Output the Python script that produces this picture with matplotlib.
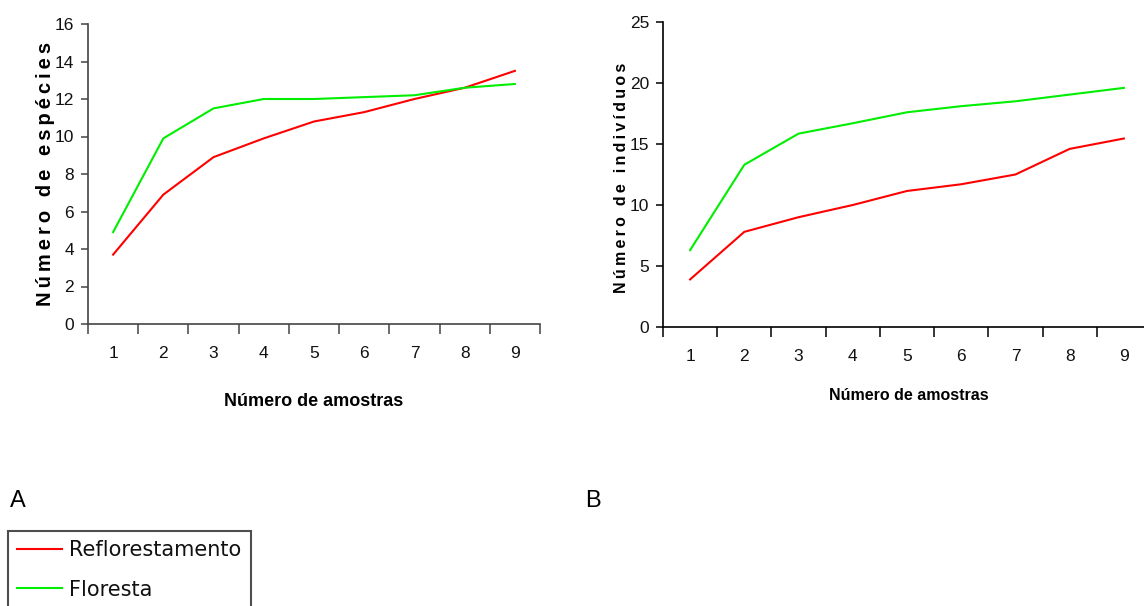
import matplotlib
matplotlib.use("Agg")
import matplotlib.pyplot as plt

# ── Data ──────────────────────────────────────────────────────────────────────

amostras = [1, 2, 3, 4, 5, 6, 7, 8, 9]

# Species accumulation (panel A)
especies_reflorestamento = [3.7, 6.9, 8.9, 9.9, 10.8, 11.3, 12.0, 12.6, 13.5]
especies_floresta = [4.9, 9.9, 11.5, 12.0, 12.0, 12.1, 12.2, 12.6, 12.8]

# Individual accumulation (panel B)
individuos_reflorestamento = [3.9, 7.8, 9.0, 10.0, 11.15, 11.7, 12.5, 14.6, 15.45]
individuos_floresta = [6.3, 13.3, 15.85, 16.7, 17.6, 18.1, 18.5, 19.05, 19.6]

yticks_a = [0, 2, 4, 6, 8, 10, 12, 14, 16]
yticks_b = [0, 5, 10, 15, 20, 25]

RED = "#ff0000"
GREEN = "#00ee00"
FONT = ["Liberation Sans", "DejaVu Sans"]


def spaced(text, gap="\u2009"):
    # letter-spaced label: thin gap between letters, a full space between words
    return (gap + " " + gap).join(gap.join(word) for word in text.split())


def style_axes(ax, yticks, ymax, spine_color):
    ax.set_xlim(0.5, 9.5)
    ax.set_ylim(0, ymax)
    for side in ("top", "right"):
        ax.spines[side].set_visible(False)
    for side in ("left", "bottom"):
        ax.spines[side].set_color(spine_color)
        ax.spines[side].set_linewidth(1.2)
    ax.set_xticks(amostras)
    ax.set_xticks([x + 0.5 for x in range(0, 10)], minor=True)
    ax.tick_params(axis="x", which="major", length=0, pad=16)
    ax.tick_params(axis="x", which="minor", length=7, width=1.1,
                   color=spine_color, direction="out")
    ax.set_yticks(yticks)
    ax.tick_params(axis="y", length=5, width=1.1, color=spine_color,
                   direction="out", pad=5)
    for lab in ax.get_xticklabels() + ax.get_yticklabels():
        lab.set_fontfamily(FONT)
        lab.set_fontsize(12.5)
        lab.set_color("#111111")


fig = plt.figure(figsize=(11.44, 6.06), dpi=100)

# ── Panel A ───────────────────────────────────────────────────────────────────

ax_a = fig.add_axes([88 / 1144, 1 - 324 / 606, 452 / 1144, 300 / 606])
ax_a.plot(amostras, especies_reflorestamento, color=RED, linewidth=1.5,
          label="Reflorestamento")
ax_a.plot(amostras, especies_floresta, color=GREEN, linewidth=1.5,
          label="Floresta")
style_axes(ax_a, yticks_a, 16, "#444444")
ax_a.set_xlabel("Número de amostras", fontsize=13, fontweight="bold",
                fontfamily=FONT, va="center")
ax_a.xaxis.set_label_coords(0.5, -(402 - 324) / 300)
ax_a.set_ylabel(spaced("Número de espécies"), fontsize=14.5,
                fontweight="bold", fontfamily=FONT, va="center")
ax_a.yaxis.set_label_coords(-(88 - 46) / 452, 0.5)

# ── Panel B ───────────────────────────────────────────────────────────────────

ax_b = fig.add_axes([663 / 1144, 1 - 327 / 606, 488 / 1144, 305 / 606])
ax_b.plot(amostras, individuos_reflorestamento, color=RED, linewidth=1.5)
ax_b.plot(amostras, individuos_floresta, color=GREEN, linewidth=1.5)
style_axes(ax_b, yticks_b, 25, "#000000")
ax_b.set_xlabel("Número de amostras", fontsize=11.5, fontweight="bold",
                fontfamily=FONT, va="center")
ax_b.xaxis.set_label_coords((909 - 663) / 488, -(395 - 327) / 305)
ax_b.set_ylabel(spaced("Número de indivíduos"), fontsize=11.5,
                fontweight="bold", fontfamily=FONT, va="center")
ax_b.yaxis.set_label_coords(-(663 - 621) / 488, 0.49)

# ── Panel letters and shared legend ───────────────────────────────────────────

fig.text(10 / 1144, 1 - 507 / 606, "A", fontsize=17, fontfamily=FONT)
fig.text(585 / 1144, 1 - 507 / 606, "B", fontsize=17, fontfamily=FONT)

handles, labels = ax_a.get_legend_handles_labels()
leg = fig.legend(handles, labels, loc="upper left",
                 bbox_to_anchor=(8 / 1144, 1 - 531 / 606),
                 borderaxespad=0, frameon=True, fancybox=False,
                 fontsize=15, handlelength=2.15, handletextpad=0.34,
                 labelspacing=0.92, borderpad=0.45)
leg.get_frame().set_edgecolor("#222222")
leg.get_frame().set_linewidth(1.5)
for t in leg.get_texts():
    t.set_fontfamily("DejaVu Sans")
    t.set_color("#111111")

fig.savefig("out.png", dpi=100)
plt.close(fig)
